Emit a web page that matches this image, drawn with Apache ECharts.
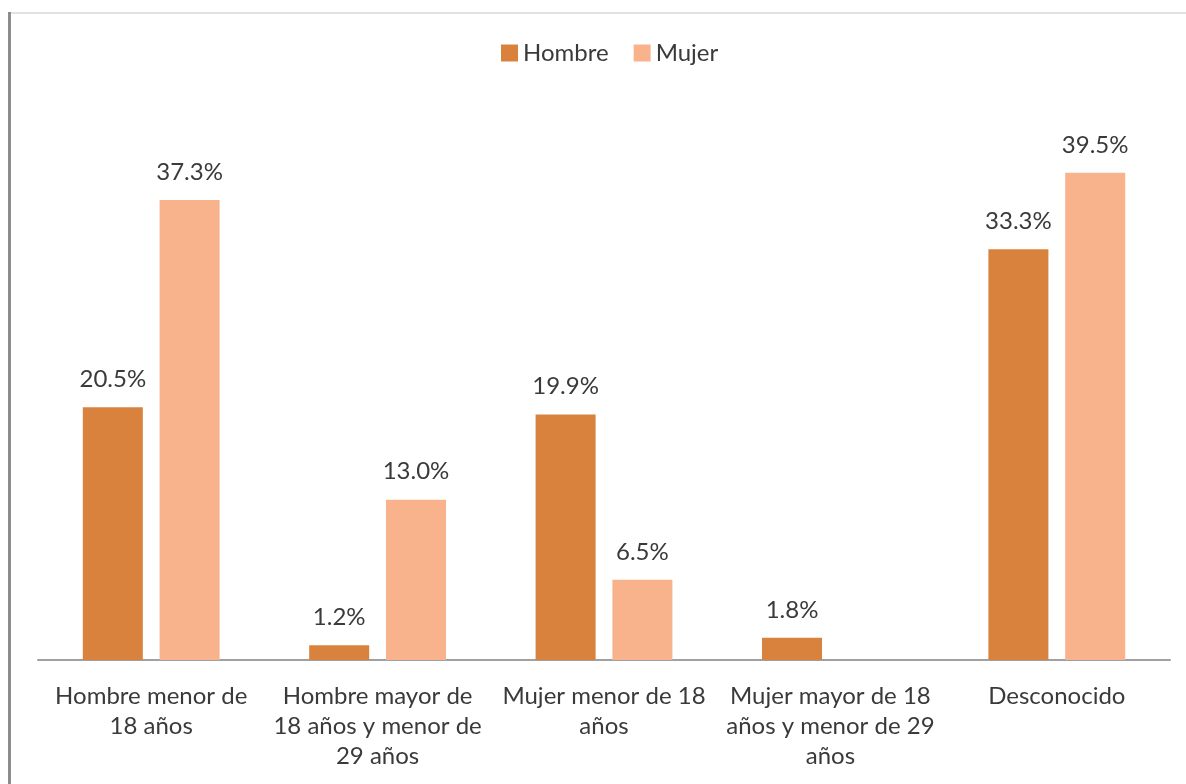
<!DOCTYPE html>
<html>
<head>
<meta charset="utf-8">
<script src="https://cdn.jsdelivr.net/npm/echarts@6/dist/echarts.min.js"></script>
<style>
    html, body { margin: 0; padding: 0; background: #ffffff; }
    #chart { width: 1186px; height: 784px; }
</style>
</head>
<body>
<div id="chart"></div>
<script>
// categorías y valores (%)
const categories = [
    'Hombre menor de\n18 años',
    'Hombre mayor de\n18 años y menor de\n29 años',
    'Mujer menor de 18\naños',
    'Mujer mayor de 18\naños y menor de 29\naños',
    'Desconocido'
];
const hombre = [20.5, 1.2, 19.9, 1.8, 33.3];
const mujer = [37.3, 13.0, 6.5, null, 39.5];

const font = 'Lato, "Open Sans", sans-serif';
const textColor = '#3a3a3a';

const chart = echarts.init(document.getElementById('chart'));

function barLabel() {
    return {
        show: true,
        position: 'top',
        distance: 16,
        fontFamily: font,
        fontSize: 24,
        color: textColor,
        formatter: function (p) {
            return p.value == null ? '' : p.value.toFixed(1) + '%';
        }
    };
}

chart.setOption({
    animation: false,
    textStyle: { fontFamily: font },
    graphic: [
        // marco izquierdo y superior
        { type: 'rect', shape: { x: 8, y: 12, width: 3, height: 772 }, style: { fill: '#8c8c8c' } },
        { type: 'rect', shape: { x: 11, y: 12, width: 1175, height: 2 }, style: { fill: '#e2e2e2' } }
    ],
    legend: {
        top: 36,
        left: 496,
        itemWidth: 17,
        itemHeight: 17,
        itemGap: 25,
        icon: 'rect',
        textStyle: { fontFamily: font, fontSize: 24, color: textColor },
        data: ['Hombre', 'Mujer']
    },
    grid: { left: 38, right: 16, top: 105, bottom: 124 },
    xAxis: {
        type: 'category',
        data: categories,
        axisTick: { show: false },
        axisLine: { lineStyle: { color: '#a0a0a0', width: 2 } },
        axisLabel: {
            interval: 0,
            margin: 21,
            fontFamily: font,
            fontSize: 24,
            lineHeight: 30,
            color: textColor
        }
    },
    yAxis: {
        type: 'value',
        min: 0,
        max: 45,
        show: false,
        splitLine: { show: false }
    },
    series: [
        {
            name: 'Hombre',
            type: 'bar',
            data: hombre,
            barWidth: 60,
            barGap: '28%',
            itemStyle: { color: '#d8823d' },
            label: barLabel()
        },
        {
            name: 'Mujer',
            type: 'bar',
            data: mujer,
            barWidth: 60,
            itemStyle: { color: '#f8b28c' },
            label: barLabel()
        }
    ]
});
</script>
</body>
</html>
